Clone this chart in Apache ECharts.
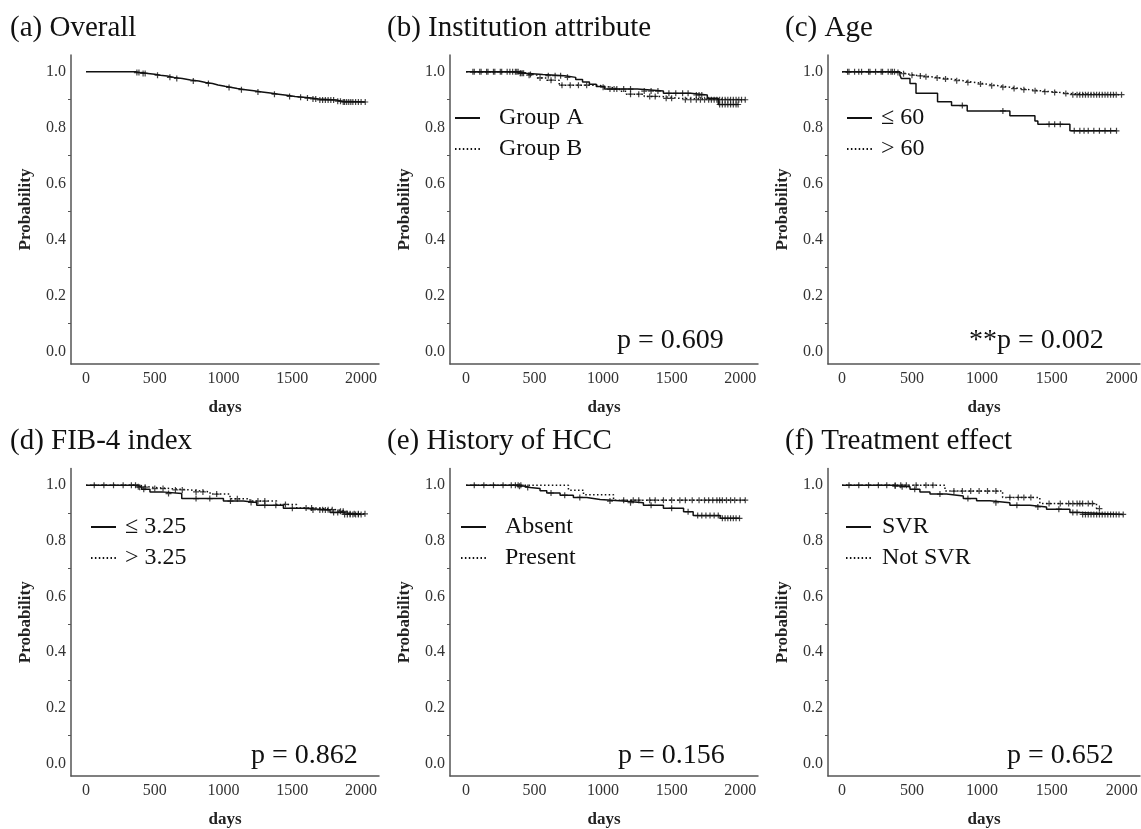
<!DOCTYPE html>
<html>
<head>
<meta charset="utf-8">
<script src="https://cdn.jsdelivr.net/npm/echarts@6/dist/echarts.min.js"></script>
<style>
  html, body { margin: 0; padding: 0; background: #fff; }
  #main { width: 1141px; height: 829px; }
</style>
</head>
<body>
<div id="main"></div>
<script>
// ---- data (days, survival probability) ----
// step points: time of each drop and the survival after it; censor marks: times
var overallT = [0, 360, 400, 450, 500, 540, 590, 640, 700, 760, 820, 870, 920, 960, 1010, 1060, 1100, 1160, 1220, 1280, 1340, 1400, 1460, 1520, 1580, 1640, 1690, 1820, 1860];
var overallS = [1.0, 0.997, 0.994, 0.991, 0.988, 0.985, 0.980, 0.976, 0.971, 0.967, 0.962, 0.958, 0.953, 0.948, 0.944, 0.940, 0.936, 0.932, 0.928, 0.924, 0.920, 0.916, 0.912, 0.909, 0.906, 0.903, 0.899, 0.895, 0.892];
var overallC = [370, 385, 415, 430, 520, 610, 660, 780, 890, 1040, 1130, 1250, 1370, 1480, 1560, 1610, 1650, 1670, 1700, 1720, 1740, 1760, 1780, 1800, 1830, 1850, 1870, 1880, 1895, 1910, 1925, 1940, 1960, 1980, 2000, 2030];

var groupAT = [0, 390, 430, 560, 720, 800, 850, 900, 950, 1010, 1250, 1440, 1640, 1760, 1840];
var groupAS = [1.0, 0.995, 0.990, 0.986, 0.980, 0.972, 0.963, 0.955, 0.947, 0.938, 0.931, 0.923, 0.917, 0.905, 0.883];
var groupAC = [60, 110, 160, 210, 250, 300, 340, 370, 380, 395, 410, 470, 600, 650, 690, 740, 1050, 1100, 1150, 1200, 1300, 1350, 1400, 1480, 1530, 1580, 1620, 1680, 1700, 1720, 1850, 1870, 1890, 1910, 1930, 1950, 1970, 1985];
var groupBT = [0, 380, 440, 520, 590, 680, 960, 1050, 1120, 1170, 1300, 1420, 1560];
var groupBS = [1.0, 0.995, 0.988, 0.978, 0.970, 0.952, 0.945, 0.938, 0.930, 0.920, 0.912, 0.905, 0.900];
var groupBC = [50, 100, 150, 200, 260, 320, 360, 400, 420, 460, 540, 620, 700, 760, 820, 880, 1000, 1080, 1200, 1260, 1340, 1380, 1460, 1500, 1600, 1640, 1680, 1710, 1740, 1770, 1790, 1810, 1830, 1850, 1870, 1890, 1910, 1930, 1950, 1970, 1990, 2010, 2037];

var ageLoT = [0, 414, 424, 486, 529, 683, 783, 895, 1200, 1379, 1400, 1629];
var ageLoS = [1.0, 0.988, 0.976, 0.958, 0.923, 0.893, 0.879, 0.860, 0.843, 0.824, 0.812, 0.789];
var ageLoC = [50, 120, 200, 280, 350, 860, 1150, 1480, 1520, 1560, 1660, 1700, 1730, 1760, 1800, 1840, 1880, 1920, 1962];
var ageHiT = [0, 380, 420, 462, 520, 581, 640, 700, 780, 867, 950, 1033, 1120, 1200, 1270, 1343, 1420, 1486, 1560, 1629];
var ageHiS = [1.0, 0.997, 0.993, 0.988, 0.985, 0.982, 0.978, 0.974, 0.968, 0.962, 0.956, 0.950, 0.945, 0.940, 0.936, 0.932, 0.929, 0.926, 0.922, 0.918];
var ageHiC = [40, 90, 140, 190, 240, 290, 330, 360, 375, 400, 440, 500, 560, 600, 680, 740, 820, 900, 990, 1070, 1150, 1230, 1300, 1380, 1450, 1520, 1600, 1650, 1680, 1700, 1720, 1740, 1760, 1780, 1800, 1820, 1840, 1860, 1880, 1900, 1920, 1940, 1960, 1998];

var fibLoT = [0, 370, 405, 465, 550, 696, 999, 1144, 1241, 1435, 1580, 1774, 1860];
var fibLoS = [1.0, 0.994, 0.985, 0.976, 0.970, 0.952, 0.943, 0.938, 0.928, 0.917, 0.911, 0.902, 0.895];
var fibLoC = [60, 130, 200, 270, 330, 380, 420, 600, 800, 900, 1050, 1200, 1300, 1380, 1500, 1650, 1700, 1740, 1800, 1830, 1880, 1900, 1920, 1940, 1960, 1980, 2000];
var fibHiT = [0, 380, 465, 611, 756, 902, 1047, 1192, 1386, 1532, 1677, 1822, 1900];
var fibHiS = [1.0, 0.993, 0.988, 0.983, 0.976, 0.968, 0.951, 0.943, 0.931, 0.918, 0.912, 0.906, 0.897];
var fibHiC = [360, 390, 430, 500, 560, 650, 700, 800, 850, 950, 1100, 1250, 1300, 1450, 1600, 1640, 1720, 1760, 1790, 1850, 1870, 1920, 1950, 1980, 2028];

var hccNoT = [0, 370, 430, 467, 540, 589, 686, 783, 881, 978, 1148, 1294, 1440, 1587, 1657, 1854];
var hccNoS = [1.0, 0.996, 0.992, 0.988, 0.980, 0.972, 0.964, 0.956, 0.949, 0.943, 0.937, 0.928, 0.917, 0.905, 0.891, 0.881];
var hccNoC = [60, 130, 200, 270, 330, 360, 390, 450, 620, 720, 830, 1050, 1200, 1350, 1500, 1620, 1690, 1720, 1750, 1780, 1810, 1840, 1870, 1890, 1910, 1930, 1950, 1970, 1995];
var hccYesT = [0, 747, 857, 1076];
var hccYesS = [1.0, 0.982, 0.966, 0.946];
var hccYesC = [380, 400, 1150, 1220, 1260, 1340, 1380, 1440, 1500, 1560, 1600, 1650, 1700, 1740, 1770, 1800, 1830, 1850, 1870, 1900, 1930, 1960, 2000, 2037];

var svrT = [0, 360, 414, 486, 557, 629, 747, 867, 962, 1057, 1200, 1343, 1462, 1629, 1700];
var svrS = [1.0, 0.997, 0.994, 0.985, 0.976, 0.968, 0.961, 0.952, 0.944, 0.937, 0.928, 0.922, 0.914, 0.902, 0.895];
var svrC = [50, 120, 190, 260, 320, 380, 430, 520, 700, 900, 1100, 1250, 1400, 1550, 1650, 1680, 1720, 1740, 1760, 1780, 1800, 1820, 1840, 1860, 1880, 1900, 1920, 1940, 1960, 1980, 2010];
var notSvrT = [0, 736, 1148, 1414, 1819];
var notSvrS = [1.0, 0.979, 0.956, 0.934, 0.916];
var notSvrC = [380, 420, 460, 530, 600, 650, 800, 860, 920, 980, 1040, 1100, 1200, 1260, 1300, 1350, 1480, 1560, 1620, 1650, 1680, 1700, 1720, 1760, 1790, 1840];

var panelTitles = ['(a) Overall', '(b) Institution attribute', '(c) Age', '(d) FIB-4 index', '(e) History of HCC', '(f) Treatment effect'];
var pValues = [null, 'p = 0.609', '**p = 0.002', 'p = 0.862', 'p = 0.156', 'p = 0.652'];
var yLabelTicks = [0, 0.2, 0.4, 0.6, 0.8, 1.0];
var yMinorTicks = [0.1, 0.3, 0.5, 0.7, 0.9];
var xLabelTicks = [0, 500, 1000, 1500, 2000];

var panels = [
  [{ name: 'Overall', t: overallT, s: overallS, c: overallC, dotted: false }],
  [{ name: 'Group A', t: groupAT, s: groupAS, c: groupAC, dotted: false },
   { name: 'Group B', t: groupBT, s: groupBS, c: groupBC, dotted: true }],
  [{ name: '≤ 60', t: ageLoT, s: ageLoS, c: ageLoC, dotted: false },
   { name: '> 60', t: ageHiT, s: ageHiS, c: ageHiC, dotted: true }],
  [{ name: '≤ 3.25', t: fibLoT, s: fibLoS, c: fibLoC, dotted: false },
   { name: '> 3.25', t: fibHiT, s: fibHiS, c: fibHiC, dotted: true }],
  [{ name: 'Absent', t: hccNoT, s: hccNoS, c: hccNoC, dotted: false },
   { name: 'Present', t: hccYesT, s: hccYesS, c: hccYesC, dotted: true }],
  [{ name: 'SVR', t: svrT, s: svrS, c: svrC, dotted: false },
   { name: 'Not SVR', t: notSvrT, s: notSvrS, c: notSvrC, dotted: true }]
];

// ---- layout ----
var FONT = 'Liberation Serif';
var INK = '#111';
var colLeft = [71, 450, 828];
var colWidth = [308, 308, 312];
var colXMin = [-109, -117, -100];
var rowTop = [55, 468.5];
var titleLeft = [10, 387, 785];
var titleTop = [14, 427];
var pLeft = [0, 617, 969, 251, 618, 1007];
var pTop = [0, 327, 327, 742, 742, 742];
// legend box: icon left, first row top, text padding
var legendPos = [null, [454, 105, 14], [846, 105, 4], [90, 514, 4], [460, 514, 14], [845, 514, 6]];

function survAt(t, s, x) {
  var v = s[0];
  for (var i = 0; i < t.length; i++) { if (t[i] <= x) v = s[i]; }
  return v;
}
function stepData(cv) {
  var pts = cv.t.map(function (x, i) { return [x, cv.s[i]]; });
  var end = cv.c[cv.c.length - 1];
  if (end > cv.t[cv.t.length - 1]) pts.push([end, cv.s[cv.s.length - 1]]);
  return pts;
}

var myChart = echarts.init(document.getElementById('main'), null, { renderer: 'canvas' });
var grids = [], xAxes = [], yAxes = [], series = [], titles = [], legends = [];
var CROSS = 'path://M0,4h10v2h-10zM4,0h2v10h-2z';

panels.forEach(function (curves, k) {
  var col = k % 3, row = Math.floor(k / 3);
  grids.push({ left: colLeft[col], top: rowTop[row], width: colWidth[col], height: 309 });
  xAxes.push({
    type: 'value', gridIndex: k, min: colXMin[col], max: 2130,
    name: 'days', nameLocation: 'middle', nameGap: 35,
    nameTextStyle: { fontFamily: FONT, fontWeight: 'bold', fontSize: 17, color: '#222' },
    axisLine: { onZero: false, lineStyle: { color: '#555', width: 1.5 } },
    axisTick: { show: false },
    splitLine: { show: false },
    axisLabel: { customValues: xLabelTicks, fontFamily: FONT, fontSize: 16, color: '#333', margin: 7,
      formatter: function (v) { return String(v); } }
  });
  yAxes.push({
    type: 'value', gridIndex: k, min: -0.045, max: 1.06,
    name: 'Probability', nameLocation: 'middle', nameGap: 37, nameRotate: 90,
    nameTextStyle: { fontFamily: FONT, fontWeight: 'bold', fontSize: 17, color: '#222' },
    axisLine: { show: true, onZero: false, lineStyle: { color: '#555', width: 1.5 } },
    axisTick: { show: true, customValues: yMinorTicks, length: 3, lineStyle: { color: '#555' } },
    splitLine: { show: false },
    axisLabel: { customValues: yLabelTicks, fontFamily: FONT, fontSize: 16, color: '#333', margin: 5,
      formatter: function (v) { return v.toFixed(1); } }
  });
  titles.push({ text: panelTitles[k], left: titleLeft[col], top: titleTop[row], padding: 0,
    textStyle: { fontFamily: FONT, fontWeight: 'normal', fontSize: 29, color: '#111' } });
  if (pValues[k]) {
    titles.push({ text: pValues[k], left: pLeft[k], top: pTop[k], padding: 0,
      textStyle: { fontFamily: FONT, fontWeight: 'normal', fontSize: 28, color: '#111' } });
  }
  curves.forEach(function (cv) {
    series.push({
      name: cv.name, type: 'line', xAxisIndex: k, yAxisIndex: k, step: 'end',
      symbol: 'none', silent: true, data: stepData(cv),
      lineStyle: { color: INK, width: 1.5, type: cv.dotted ? [1.5, 2.4] : 'solid' },
      itemStyle: { color: INK }
    });
    series.push({
      name: cv.name + ' censored', type: 'scatter', xAxisIndex: k, yAxisIndex: k,
      symbol: CROSS, symbolSize: 6, silent: true,
      itemStyle: { color: INK },
      data: cv.c.map(function (x) { return [x, survAt(cv.t, cv.s, x)]; })
    });
  });
  if (legendPos[k]) {
    var lp = legendPos[k];
    legends.push({
      data: curves.map(function (cv) { return cv.name; }),
      orient: 'vertical', left: lp[0], top: lp[1], padding: 0,
      itemWidth: 25, itemHeight: 14, itemGap: 5, selectedMode: false,
      itemStyle: { color: 'rgba(0,0,0,0)', borderWidth: 0 },
      textStyle: { fontFamily: FONT, fontSize: 24, color: '#111', lineHeight: 26, padding: [0, 0, 0, lp[2]] }
    });
  }
});

var option = {
  backgroundColor: '#fff',
  animation: false,
  title: titles,
  legend: legends,
  grid: grids,
  xAxis: xAxes,
  yAxis: yAxes,
  series: series
};
myChart.setOption(option);
window.addEventListener('resize', function () { myChart.resize(); });
</script>
</body>
</html>
